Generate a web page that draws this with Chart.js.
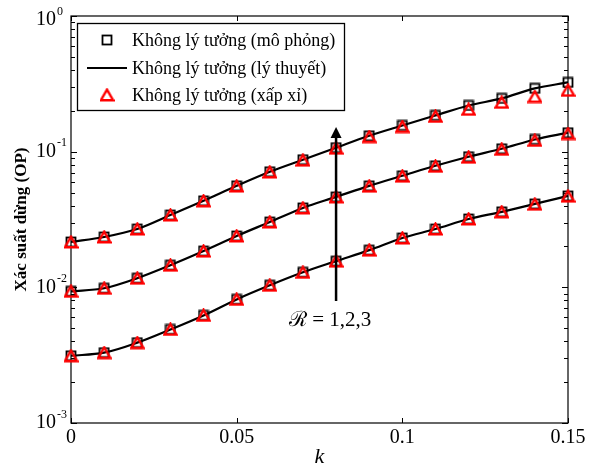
<!DOCTYPE html>
<html><head><meta charset="utf-8">
<script src="https://cdn.jsdelivr.net/npm/chart.js@4"></script>
<style>html,body{margin:0;padding:0;background:#fff}</style>
</head><body>
<canvas id="c" width="596" height="466"></canvas>
<script>
// ---- data ----
const kValues = [0, 0.01, 0.02, 0.03, 0.04, 0.05, 0.06, 0.07, 0.08, 0.09, 0.10, 0.11, 0.12, 0.13, 0.14, 0.15];
// simulation (squares)
const simR1 = [0.00313, 0.00330, 0.00391, 0.00489, 0.00621, 0.00815, 0.01035, 0.0129, 0.0156, 0.0188, 0.0231, 0.0269, 0.0319, 0.0360, 0.0412, 0.0472];
const simR2 = [0.00934, 0.00984, 0.01167, 0.01455, 0.0185, 0.0239, 0.0303, 0.0385, 0.0464, 0.0560, 0.0664, 0.0787, 0.0918, 0.105, 0.123, 0.138];
const simR3 = [0.0216, 0.0235, 0.0269, 0.0341, 0.0434, 0.0560, 0.0711, 0.0872, 0.107, 0.131, 0.156, 0.185, 0.219, 0.247, 0.293, 0.324];
// theory (solid line)
const theoryR1 = [0.00313, 0.00330, 0.00391, 0.00489, 0.00621, 0.00815, 0.01035, 0.0129, 0.0156, 0.0188, 0.0231, 0.0269, 0.0319, 0.0360, 0.0412, 0.0472];
const theoryR2 = [0.00934, 0.00984, 0.01167, 0.01455, 0.0185, 0.0239, 0.0303, 0.0385, 0.0464, 0.0560, 0.0664, 0.0787, 0.0918, 0.105, 0.123, 0.138];
const theoryR3 = [0.0216, 0.0235, 0.0269, 0.0341, 0.0434, 0.0560, 0.0711, 0.0872, 0.107, 0.131, 0.156, 0.185, 0.219, 0.247, 0.293, 0.324];
// approximation (triangles)
const approxR1 = [0.00313, 0.00330, 0.00391, 0.00489, 0.00621, 0.00815, 0.01035, 0.0129, 0.0156, 0.0188, 0.0231, 0.0269, 0.0319, 0.0360, 0.0410, 0.0470];
const approxR2 = [0.00934, 0.00984, 0.01167, 0.01455, 0.0185, 0.0239, 0.0303, 0.0385, 0.0464, 0.0557, 0.0660, 0.0780, 0.0910, 0.104, 0.121, 0.136];
const approxR3 = [0.0216, 0.0235, 0.0269, 0.0341, 0.0434, 0.0558, 0.0708, 0.0866, 0.106, 0.129, 0.153, 0.182, 0.205, 0.231, 0.255, 0.283];

const xTickValues = [0, 0.05, 0.1, 0.15];
const xTickLabels = ['0', '0.05', '0.1', '0.15'];
const yTickValues = [1, 0.1, 0.01, 0.001];
const yTickExponents = ['0', '-1', '-2', '-3'];
const legendLabels = ['Không lý tưởng (mô phỏng)', 'Không lý tưởng (lý thuyết)', 'Không lý tưởng (xấp xỉ)'];
const xTitle = 'k';
const yTitle = 'Xác suất dừng (OP)';
const arrowK = 0.08, arrowFrom = 0.00793, arrowTo = 0.152;
const arrowText = 'ℛ = 1,2,3';

// ---- marker images ----
function makeSquare() {
  const c = document.createElement('canvas'); c.width = 12; c.height = 12;
  const g = c.getContext('2d');
  g.strokeStyle = '#000'; g.lineWidth = 1.8;
  g.strokeRect(1.5, 1.5, 9, 9);
  return c;
}
function makeTriangle() {
  const c = document.createElement('canvas'); c.width = 15; c.height = 14;
  const g = c.getContext('2d');
  g.strokeStyle = '#ff0000'; g.lineWidth = 2.4; g.lineJoin = 'miter';
  g.beginPath(); g.moveTo(7.5, 1.6); g.lineTo(13.6, 12.2); g.lineTo(1.4, 12.2); g.closePath(); g.stroke();
  return c;
}
const squareImg = makeSquare();
const triImg = makeTriangle();

function pts(arr) { return kValues.map((k, i) => ({x: k, y: arr[i]})); }

const datasets = [];
[approxR1, approxR2, approxR3].forEach(a => datasets.push({
  data: pts(a), showLine: false, pointStyle: triImg, pointRadius: 5, order: 1, clip: false
}));
[theoryR1, theoryR2, theoryR3].forEach(a => datasets.push({
  data: pts(a), borderColor: '#000', borderWidth: 2.2, pointRadius: 0, cubicInterpolationMode: 'monotone', order: 2, clip: false
}));
[simR1, simR2, simR3].forEach(a => datasets.push({
  data: pts(a), showLine: false, pointStyle: squareImg, pointRadius: 5, order: 3, clip: false
}));

const SERIF = "'Liberation Serif', 'Times New Roman', serif";

const axesPlugin = {
  id: 'axesBox',
  beforeDatasetsDraw(chart) {
    const {ctx, chartArea: a, scales: {x, y}} = chart;
    ctx.save();
    ctx.strokeStyle = '#000'; ctx.lineWidth = 1.2;
    ctx.strokeRect(a.left, a.top, a.right - a.left, a.bottom - a.top);
    ctx.lineWidth = 1;
    ctx.beginPath();
    // x ticks
    xTickValues.forEach(v => {
      const px = Math.round(x.getPixelForValue(v)) + 0.5;
      ctx.moveTo(px, a.bottom); ctx.lineTo(px, a.bottom - 5);
      ctx.moveTo(px, a.top); ctx.lineTo(px, a.top + 5);
    });
    // y ticks major + minor
    for (let e = -3; e <= 0; e++) {
      for (let m = 1; m <= 9; m++) {
        const v = m * Math.pow(10, e);
        if (v > 1.0001) break;
        const py = Math.round(y.getPixelForValue(v)) + 0.5;
        const len = m === 1 ? 6 : 4;
        ctx.moveTo(a.left, py); ctx.lineTo(a.left + len, py);
        ctx.moveTo(a.right, py); ctx.lineTo(a.right - len, py);
      }
    }
    ctx.stroke();
    // x labels
    ctx.fillStyle = '#000';
    ctx.font = '20px ' + SERIF;
    ctx.textAlign = 'center'; ctx.textBaseline = 'middle';
    xTickValues.forEach((v, i) => ctx.fillText(xTickLabels[i], x.getPixelForValue(v), a.bottom + 15));
    // y labels with superscripts
    yTickValues.forEach((v, i) => {
      let py = y.getPixelForValue(v);
      if (py < a.top + 4) py = a.top + 4;
      ctx.font = '20px ' + SERIF;
      ctx.textAlign = 'right'; ctx.textBaseline = 'middle';
      ctx.fillText('10', 56, py);
      ctx.font = '12px ' + SERIF;
      ctx.textAlign = 'left';
      ctx.fillText(yTickExponents[i], 57, py - 8.5);
    });
    // axis titles
    ctx.font = 'italic 22px ' + SERIF;
    ctx.textAlign = 'center'; ctx.textBaseline = 'middle';
    ctx.fillText(xTitle, (a.left + a.right) / 2, 457);
    ctx.save();
    ctx.translate(22, (a.top + a.bottom) / 2);
    ctx.rotate(-Math.PI / 2);
    ctx.font = 'bold 17px ' + SERIF;
    ctx.fillText(yTitle, 0, 0);
    ctx.restore();
    ctx.restore();
  }
};

const overlayPlugin = {
  id: 'overlay',
  afterDatasetsDraw(chart) {
    const {ctx, scales: {x, y}} = chart;
    ctx.save();
    // arrow
    const ax = x.getPixelForValue(arrowK);
    const y0 = y.getPixelForValue(arrowFrom), y1 = y.getPixelForValue(arrowTo);
    ctx.strokeStyle = '#000'; ctx.fillStyle = '#000'; ctx.lineWidth = 2.5;
    ctx.beginPath(); ctx.moveTo(ax, y0); ctx.lineTo(ax, y1 + 8); ctx.stroke();
    ctx.beginPath(); ctx.moveTo(ax, y1); ctx.lineTo(ax - 5.5, y1 + 11); ctx.lineTo(ax + 5.5, y1 + 11); ctx.closePath(); ctx.fill();
    ctx.font = "21px 'Liberation Serif', 'DejaVu Serif', serif";
    ctx.textAlign = 'center'; ctx.textBaseline = 'middle';
    ctx.fillText(arrowText, ax - 6, y0 + 19);
    // legend
    ctx.fillStyle = '#fff';
    ctx.fillRect(77, 23, 267, 87);
    ctx.strokeStyle = '#000'; ctx.lineWidth = 1.3;
    ctx.strokeRect(77.5, 23.5, 267, 87);
    const rows = [40, 68, 95];
    ctx.drawImage(squareImg, 107 - 6, rows[0] - 6);
    ctx.lineWidth = 2.2;
    ctx.beginPath(); ctx.moveTo(87, rows[1]); ctx.lineTo(127, rows[1]); ctx.stroke();
    ctx.drawImage(triImg, 107 - 7.5, rows[2] - 7);
    ctx.fillStyle = '#000';
    ctx.font = '18px ' + SERIF;
    ctx.textAlign = 'left'; ctx.textBaseline = 'middle';
    legendLabels.forEach((t, i) => ctx.fillText(t, 132, rows[i] + 1));
    ctx.restore();
  }
};

new Chart(document.getElementById('c').getContext('2d'), {
  type: 'line',
  data: {datasets},
  options: {
    responsive: false, animation: false,
    layout: {padding: {top: 16, right: 28, left: 0, bottom: 0}},
    plugins: {legend: {display: false}, tooltip: {enabled: false}},
    scales: {
      x: {type: 'linear', min: 0, max: 0.15, ticks: {display: false}, grid: {display: false}, border: {display: false},
          afterFit: s => { s.height = 43; }},
      y: {type: 'logarithmic', min: 0.001, max: 1, ticks: {display: false}, grid: {display: false}, border: {display: false},
          afterFit: s => { s.width = 71; }}
    }
  },
  plugins: [axesPlugin, overlayPlugin]
});
</script>
</body></html>
